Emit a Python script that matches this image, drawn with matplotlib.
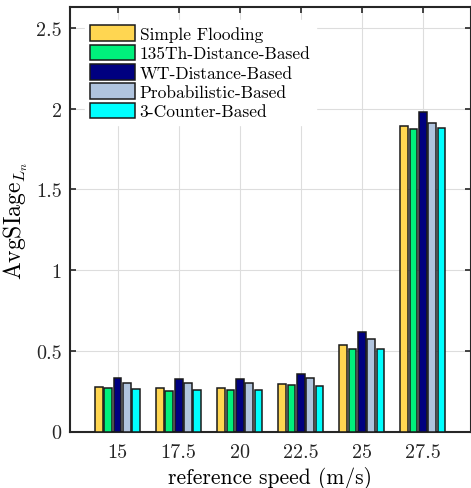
import numpy as np
import matplotlib
matplotlib.use('Agg')
import matplotlib.pyplot as plt

plt.rcParams['font.family'] = 'serif'
plt.rcParams['font.serif'] = ['cmr10', 'DejaVu Serif']
plt.rcParams['mathtext.fontset'] = 'cm'
plt.rcParams['axes.formatter.use_mathtext'] = True

# данні
speeds = ['15', '17.5', '20', '22.5', '25', '27.5']
series_names = ['Simple Flooding', '135Th-Distance-Based', 'WT-Distance-Based',
                'Probabilistic-Based', '3-Counter-Based']
simple_flooding = [0.274, 0.270, 0.272, 0.293, 0.539, 1.893]
th_distance = [0.268, 0.254, 0.257, 0.285, 0.510, 1.874]
wt_distance = [0.332, 0.323, 0.325, 0.356, 0.619, 1.980]
probabilistic = [0.302, 0.298, 0.300, 0.330, 0.571, 1.913]
counter_based = [0.262, 0.255, 0.257, 0.283, 0.514, 1.880]
colors = ['#FFD651', '#00F07C', '#000080', '#B0C4DE', '#00FFFF']

all_series = [simple_flooding, th_distance, wt_distance, probabilistic, counter_based]

fig = plt.figure(figsize=(4.71, 4.89), dpi=100)
ax = fig.add_axes([70 / 471, 1 - 432.5 / 489, 400.5 / 471, 424.5 / 489])

x = np.arange(1, len(speeds) + 1)
pitch = 0.153
width = 0.127
for i, (vals, name, c) in enumerate(zip(all_series, series_names, colors)):
    ax.bar(x + (i - 2) * pitch, vals, width, color=c, edgecolor='#1a1a1a',
           linewidth=1.1, label=name, zorder=3)

ax.set_xlim(0.22, 6.78)
ax.set_ylim(0, 2.63)
ax.set_xticks(x)
ax.set_xticklabels(speeds, fontsize=14.5)
ax.set_yticks([0, 0.5, 1, 1.5, 2, 2.5])
ax.set_yticklabels(['0', '0.5', '1', '1.5', '2', '2.5'], fontsize=14.5)
ax.tick_params(axis='y', pad=6)
ax.tick_params(axis='x', pad=8)
ax.tick_params(direction='in', length=4, width=1.2, top=True, right=True,
               colors='#262626', labelcolor='#262626')
ax.grid(True, color='#dddddd', linewidth=0.8, zorder=0)
for s in ax.spines.values():
    s.set_linewidth(1.5)
    s.set_color('#262626')

ax.set_xlabel('reference speed (m/s)', fontsize=15.5, labelpad=4)
ax.set_ylabel(r'$\mathrm{AvgSIage}_{L_n}$', fontsize=17, labelpad=4)

leg = ax.legend(loc='upper left', bbox_to_anchor=(0.0375, 0.969), fontsize=12.5,
                frameon=True, framealpha=1.0, edgecolor='white', fancybox=False,
                handlelength=2.6, handleheight=1.0, labelspacing=0.15,
                handletextpad=0.25, borderpad=0.3, borderaxespad=0)
for h in leg.legend_handles:
    h.set_edgecolor('#1a1a1a')

plt.savefig('out.png', dpi=100)
